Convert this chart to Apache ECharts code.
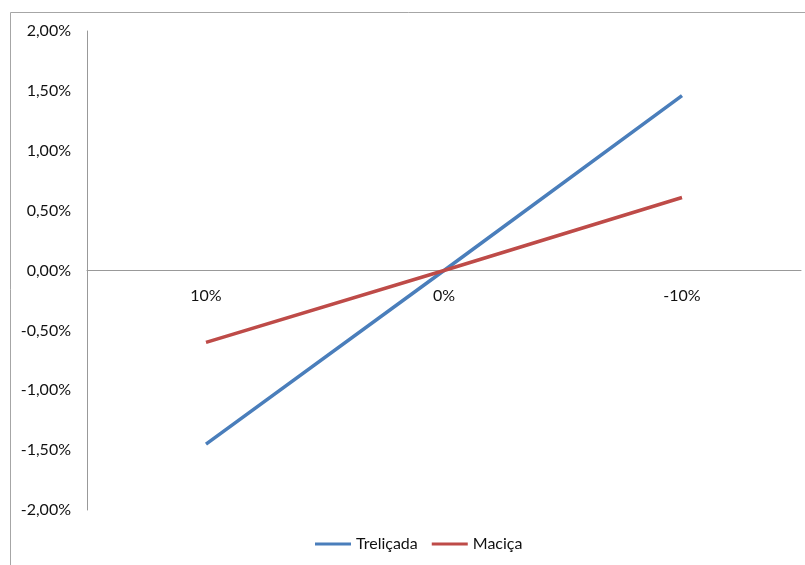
<!DOCTYPE html>
<html>
<head>
<meta charset="utf-8">
<script src="https://cdn.jsdelivr.net/npm/echarts@6/dist/echarts.min.js"></script>
<style>
  html, body { margin: 0; padding: 0; background: #fff; }
  #chart { width: 805px; height: 565px; }
</style>
</head>
<body>
<div id="chart"></div>
<script>
// Categories (variation) and series values in percent
const categories = ['10%', '0%', '-10%'];
const trelicada = [-1.45, 0, 1.46];
const macica = [-0.60, 0, 0.61];
const yMin = -2, yMax = 2, yStep = 0.5;

const fmtPct = v => v.toFixed(2).replace('.', ',') + '%';
const font = 'Lato, "Open Sans", sans-serif';

const gridTop = 31, gridBottom = 55, chartH = 565;
// Category labels sit just under the zero line, not at the bottom of the grid
const plotH = chartH - gridTop - gridBottom;
const zeroFromBottom = plotH * (0 - yMin) / (yMax - yMin);
const labelMargin = 17 - zeroFromBottom;

const chart = echarts.init(document.getElementById('chart'));
chart.setOption({
  animation: false,
  backgroundColor: '#fff',
  graphic: [{
    type: 'rect',
    shape: { x: 10.5, y: 12.5, width: 820, height: 600 },
    style: { fill: 'none', stroke: '#a6a6a6', lineWidth: 1 },
    silent: true
  }],
  grid: { left: 87, right: 4, top: gridTop, bottom: gridBottom },
  legend: {
    bottom: 8,
    left: 310,
    itemWidth: 36,
    itemHeight: 3,
    itemGap: 14,
    icon: 'rect',
    textStyle: { fontFamily: font, fontSize: 16, color: '#111' },
    data: ['Treliçada', 'Maciça']
  },
  xAxis: {
    type: 'category',
    data: categories,
    boundaryGap: true,
    axisLine: { onZero: true, lineStyle: { color: '#999', width: 1 } },
    axisTick: { show: false },
    axisLabel: { margin: labelMargin, fontFamily: font, fontSize: 16, color: '#111' },
    splitLine: { show: false }
  },
  yAxis: {
    type: 'value',
    min: yMin,
    max: yMax,
    interval: yStep,
    axisLine: { show: true, lineStyle: { color: '#999', width: 1 } },
    axisTick: { show: false },
    splitLine: { show: false },
    axisLabel: { margin: 16, fontFamily: font, fontSize: 16, color: '#111', formatter: fmtPct }
  },
  series: [
    {
      name: 'Treliçada',
      type: 'line',
      data: trelicada,
      symbol: 'none',
      color: '#4a7ebb',
      lineStyle: { width: 3.5, color: '#4a7ebb' }
    },
    {
      name: 'Maciça',
      type: 'line',
      data: macica,
      symbol: 'none',
      color: '#be4b48',
      lineStyle: { width: 3.5, color: '#be4b48' }
    }
  ]
});
</script>
</body>
</html>
